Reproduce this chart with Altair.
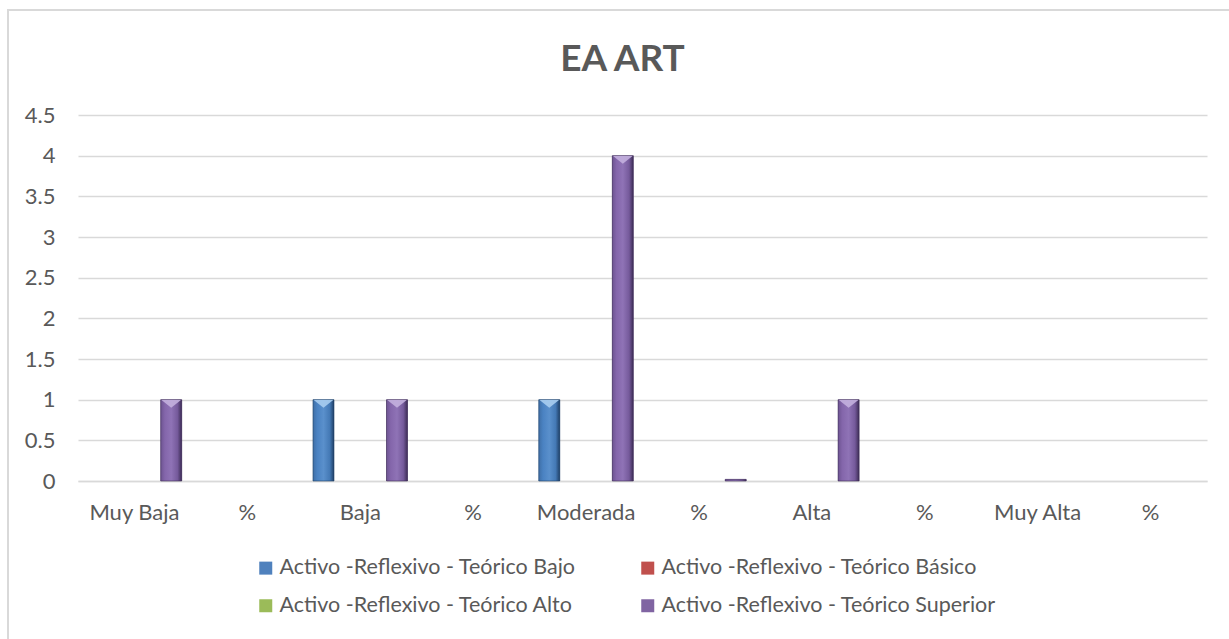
import altair as alt
import pandas as pd

# Categories along the x axis (each level followed by its percentage column)
categories = ["Muy Baja", "%", "Baja", "%", "Moderada", "%", "Alta", "%", "Muy Alta", "%"]

series = [
    "Activo -Reflexivo - Teórico Bajo",
    "Activo -Reflexivo - Teórico Básico",
    "Activo -Reflexivo - Teórico Alto",
    "Activo -Reflexivo - Teórico Superior",
]

bajo = [0, 0, 1, 0, 1, 0, 0, 0, 0, 0]
basico = [0, 0, 0, 0, 0, 0, 0, 0, 0, 0]
alto = [0, 0, 0, 0, 0, 0, 0, 0, 0, 0]
superior = [1, 0, 1, 0, 4, 0.02, 1, 0, 0, 0]

y_ticks = [0, 0.5, 1, 1.5, 2, 2.5, 3, 3.5, 4, 4.5]

base_colors = ["#4F81BD", "#C0504D", "#9BBB59", "#8064A2"]
# bevel shading per series: edge, body, highlight, body, dark edge
shades = {
    series[0]: ["#3f6fa6", "#4a82c2", "#5a90cc", "#4479b5", "#1f3f66"],
    series[1]: ["#a8443f", "#c2504c", "#cc5f5a", "#b0473f", "#662420"],
    series[2]: ["#84a34a", "#9bbb59", "#a8c669", "#8aa84e", "#4b5f25"],
    series[3]: ["#6d5491", "#8466ab", "#8f73b6", "#755a9b", "#3c2c55"],
}
tops = {series[0]: "#a9cdf0", series[1]: "#eaa7a4", series[2]: "#d5e8a8", series[3]: "#c3b0de"}

keys = [f"{i:02d}|{c}" for i, c in enumerate(categories)]
rows = []
for s, vals in zip(series, [bajo, basico, alto, superior]):
    for k, v in zip(keys, vals):
        rows.append({"cat": k, "serie": s, "valor": v})
df = pd.DataFrame(rows)

text_color = "#595959"
grid_color = "#D9D9D9"

x_enc = alt.X(
    "cat:N",
    sort=keys,
    scale=alt.Scale(domain=keys, paddingInner=0, paddingOuter=0),
    axis=alt.Axis(
        title=None,
        labelExpr="split(datum.label, '|')[1]",
        labelAngle=0,
        ticks=False,
        domain=True,
        domainColor=grid_color,
        domainWidth=1.5,
        labelColor=text_color,
        labelFontSize=22,
        labelPadding=21,
        grid=False,
    ),
)
xoff_enc = alt.XOffset(
    "serie:N",
    scale=alt.Scale(domain=series, paddingInner=0.143, paddingOuter=0.375),
)
y_enc = alt.Y(
    "valor:Q",
    scale=alt.Scale(domain=[0, 4.5], nice=False),
    axis=alt.Axis(
        title=None,
        values=y_ticks,
        format="~g",
        ticks=False,
        domain=False,
        grid=True,
        gridColor=grid_color,
        gridWidth=1.5,
        labelColor=text_color,
        labelFontSize=22,
        labelPadding=23,
    ),
)

base = alt.Chart(df).transform_filter("datum.valor > 0")

bars = base.mark_bar(strokeWidth=0).encode(
    x=x_enc,
    xOffset=xoff_enc,
    y=y_enc,
    color=alt.Color(
        "serie:N",
        scale=alt.Scale(domain=series, range=base_colors),
        legend=alt.Legend(
            title=None,
            orient="none",
            legendX=177,
            legendY=442,
            columns=2,
            direction="horizontal",
            columnPadding=61,
            rowPadding=15,
            symbolType="square",
            symbolSize=169,
            symbolStrokeWidth=0,
            labelFontSize=21.5,
            labelColor=text_color,
            labelOffset=3,
            labelLimit=500,
            padding=0,
        ),
    ),
)

layers = [bars]
for s in series:
    st = shades[s]
    grad = alt.Gradient(
        gradient="linear",
        x1=0, x2=1, y1=0, y2=0,
        stops=[
            alt.GradientStop(offset=0, color=st[0]),
            alt.GradientStop(offset=0.2, color=st[1]),
            alt.GradientStop(offset=0.5, color=st[2]),
            alt.GradientStop(offset=0.8, color=st[3]),
            alt.GradientStop(offset=1, color=st[4]),
        ],
    )
    sub = base.transform_filter(alt.datum.serie == s)
    layers.append(
        sub.mark_bar(fill=grad, stroke=st[4], strokeWidth=0.6).encode(
            x=x_enc, xOffset=xoff_enc, y=y_enc
        )
    )
    layers.append(
        sub.transform_filter("datum.valor >= 0.5")
        .mark_point(
            shape="M-1,-1L1,-1L0,-0.2Z",
            filled=True,
            size=380,
            yOffset=10,
            opacity=0.9,
            color=tops[s],
        )
        .encode(x=x_enc, xOffset=xoff_enc, y=y_enc)
    )

# outer frame of the chart area
frame = alt.Chart(pd.DataFrame({"f": [0]})).mark_rect(
    fill=None, stroke=grid_color, strokeWidth=2
).encode(
    x=alt.value(-70), x2=alt.value(1200), y=alt.value(-105), y2=alt.value(560)
)

chart = (
    alt.layer(frame, *layers)
    .properties(
        width=1129,
        height=366,
        title=alt.TitleParams(
            "EA ART",
            fontSize=37,
            fontWeight="bold",
            color=text_color,
            font="Lato",
            anchor="middle",
            baseline="alphabetic",
            dx=-20,
            offset=-99,
        ),
        autosize=alt.AutoSizeParams(type="none"),
        padding={"left": 78, "top": 115, "right": 22, "bottom": 158},
    )
    .configure(font="Lato", background="white")
    .configure_view(stroke=None)
)

chart.save("out.html", embed_options={"renderer": "svg", "actions": False})
